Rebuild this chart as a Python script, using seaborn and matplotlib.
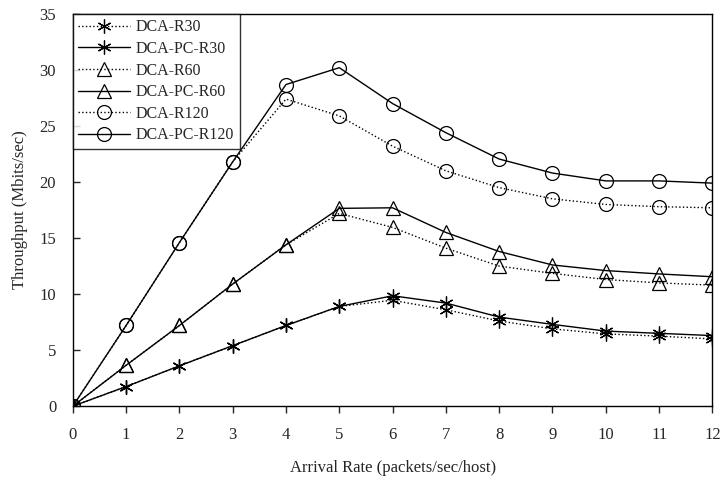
import matplotlib
matplotlib.use('Agg')
import matplotlib.pyplot as plt
import pandas as pd
import seaborn as sns

arrival = list(range(13))

dca_r30 = [0, 1.75, 3.6, 5.4, 7.2, 8.9, 9.45, 8.6, 7.6, 6.9, 6.45, 6.25, 6.0]
dca_pc_r30 = [0, 1.75, 3.6, 5.4, 7.2, 8.9, 9.85, 9.2, 7.95, 7.3, 6.7, 6.5, 6.3]
dca_r60 = [0, 3.65, 7.2, 10.9, 14.4, 17.2, 15.95, 14.1, 12.5, 11.85, 11.3, 11.0, 10.8]
dca_pc_r60 = [0, 3.65, 7.2, 10.9, 14.4, 17.65, 17.7, 15.5, 13.8, 12.6, 12.1, 11.8, 11.55]
dca_r120 = [0, 7.2, 14.6, 21.8, 27.4, 25.9, 23.2, 21.0, 19.5, 18.5, 18.0, 17.8, 17.7]
dca_pc_r120 = [0, 7.2, 14.6, 21.8, 28.7, 30.2, 27.0, 24.4, 22.05, 20.8, 20.1, 20.1, 19.9]

series = [
    ('DCA-R30', dca_r30, ':', (6, 2, 0)),
    ('DCA-PC-R30', dca_pc_r30, '-', (6, 2, 0)),
    ('DCA-R60', dca_r60, ':', '^'),
    ('DCA-PC-R60', dca_pc_r60, '-', '^'),
    ('DCA-R120', dca_r120, ':', 'o'),
    ('DCA-PC-R120', dca_pc_r120, '-', 'o'),
]

sns.set_style('white')
plt.rcParams['font.family'] = ['Liberation Serif', 'DejaVu Serif']

fig = plt.figure(figsize=(7.21, 4.79), dpi=100)
ax = fig.add_axes([0.101, 0.152, 0.887, 0.819])

for name, values, ls, mk in series:
    df = pd.DataFrame({'x': arrival, 'y': values})
    sns.lineplot(data=df, x='x', y='y', ax=ax, color='black', linestyle=ls,
                 linewidth=1.0, marker=mk, markersize=10,
                 markerfacecolor='none', markeredgecolor='black',
                 markeredgewidth=0.9, label=name)

ax.set_xlim(0, 12)
ax.set_ylim(0, 35)
ax.set_xticks(range(13))
ax.set_yticks(range(0, 36, 5))
ax.tick_params(axis='x', direction='out', length=5, width=1, labelsize=12, pad=10)
ax.tick_params(axis='y', direction='in', length=5, width=1, labelsize=12, pad=12)
ax.tick_params(left=True, bottom=True)
for sp in ax.spines.values():
    sp.set_color('black')
    sp.set_linewidth(1.0)
    sp.set_visible(True)

ax.set_xlabel('Arrival Rate (packets/sec/host)', fontsize=12, labelpad=12)
ax.set_ylabel('Throughput (Mbits/sec)', fontsize=12, labelpad=8)

leg = ax.legend(loc='upper left', bbox_to_anchor=(0, 1), fontsize=11.5,
                frameon=True, fancybox=False, edgecolor='black',
                borderaxespad=0, handlelength=3.2, handletextpad=0.4,
                labelspacing=0.35, borderpad=0.35)
leg.get_frame().set_linewidth(1.0)

fig.savefig('out.png', dpi=100)
